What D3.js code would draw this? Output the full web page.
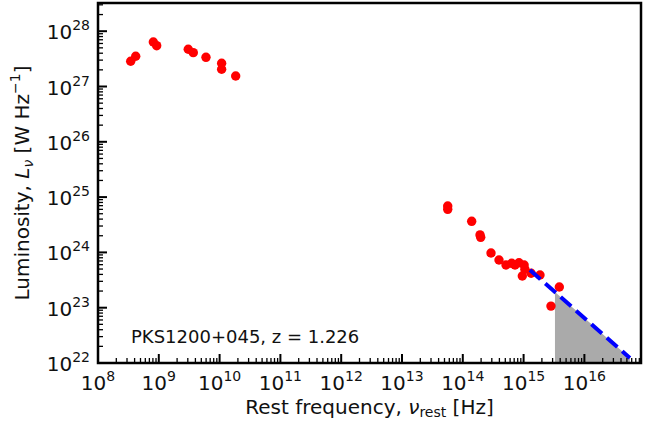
<!DOCTYPE html>
<html><head><meta charset="utf-8">
<script src="https://cdn.jsdelivr.net/npm/d3@7"></script>
<style>
html,body{margin:0;padding:0;background:#fff;}
svg{display:block;font-family:"DejaVu Sans",sans-serif;}
</style></head>
<body><svg id="c" width="655" height="421"></svg>
<script>
// Data
const radioNu = [3.45e8, 4.17e8, 8.13e8, 9.23e8, 3.05e9, 3.69e9, 5.97e9, 1.08e10, 1.08e10, 1.84e10];
const radioL  = [2.86e27, 3.52e27, 6.38e27, 5.47e27, 4.71e27, 4.09e27, 3.37e27, 2.63e27, 2.05e27, 1.55e27];
const optNu = [5.65e13, 5.65e13, 1.40e14, 1.92e14, 1.97e14, 2.91e14, 3.94e14, 5.14e14, 6.37e14, 7.22e14, 8.40e14, 1.02e15, 1.05e15, 9.52e14, 1.33e15, 1.86e15, 3.87e15, 2.82e15];
const optL  = [6.9e24, 6.0e24, 3.65e24, 2.07e24, 1.87e24, 9.75e23, 7.29e23, 5.92e23, 6.35e23, 5.92e23, 6.51e23, 5.92e23, 4.95e23, 3.74e23, 4.19e23, 3.90e23, 2.37e23, 1.07e23];
const lineNu = [1.27e15, 5.6e16];
const lineL  = [4.8e23, 1.23e22];
const shadeNu = [3.28e15, 5.6e16];
const shadeL  = [1.92e23, 1.23e22];
const xTickExp = [8, 9, 10, 11, 12, 13, 14, 15, 16];
const yTickExp = [22, 23, 24, 25, 26, 27, 28];
const label = "PKS1200+045, z = 1.226";

const L = 98, R = 641, T = 3, B = 363;
const svg = d3.select("#c");
const x = d3.scaleLog().domain([1e8, Math.pow(10, 16.931)]).range([L, R]);
const y = d3.scaleLog().domain([1e22, Math.pow(10, 28.51)]).range([B, T]);

// shaded region
const slope = Math.log10(shadeL[1] / shadeL[0]) / Math.log10(shadeNu[1] / shadeNu[0]);
const shadePts = d3.range(0, 21).map(i => {
  const lv = Math.log10(shadeNu[0]) + i / 20 * (Math.log10(shadeNu[1]) - Math.log10(shadeNu[0]));
  return [Math.pow(10, lv), shadeL[0] * Math.pow(Math.pow(10, lv) / shadeNu[0], slope)];
});
const area = d3.area().x(d => x(d[0])).y0(y(1e22)).y1(d => y(d[1]));
svg.append("path").attr("d", area(shadePts)).attr("fill", "#aaaaaa");

// points
const pts = radioNu.map((v, i) => [v, radioL[i]]).concat(optNu.map((v, i) => [v, optL[i]]));
svg.append("g").selectAll("circle").data(pts).enter().append("circle")
  .attr("cx", d => x(d[0])).attr("cy", d => y(d[1])).attr("r", 4.7).attr("fill", "#ff0000");

// dashed power law
svg.append("line")
  .attr("x1", x(lineNu[0])).attr("y1", y(lineL[0]))
  .attr("x2", x(lineNu[1])).attr("y2", y(lineL[1]))
  .attr("stroke", "#0000ff").attr("stroke-width", 4)
  .attr("stroke-dasharray", "14,6.5");

// ticks (inward)
const tg = svg.append("g").attr("stroke", "#000");
xTickExp.forEach(e => {
  const xv = x(Math.pow(10, e));
  tg.append("line").attr("x1", xv).attr("x2", xv).attr("y1", B).attr("y2", B - 9).attr("stroke-width", 2);
  for (let m = 2; m <= 9; m++) {
    const v = m * Math.pow(10, e);
    if (v < x.domain()[1]) {
      const xm = x(v);
      tg.append("line").attr("x1", xm).attr("x2", xm).attr("y1", B).attr("y2", B - 5).attr("stroke-width", 1.3);
    }
  }
});
yTickExp.forEach(e => {
  const yv = y(Math.pow(10, e));
  tg.append("line").attr("y1", yv).attr("y2", yv).attr("x1", L).attr("x2", L + 9).attr("stroke-width", 2);
  for (let m = 2; m <= 9; m++) {
    const v = m * Math.pow(10, e);
    if (v < y.domain()[1]) {
      const ym = y(v);
      tg.append("line").attr("y1", ym).attr("y2", ym).attr("x1", L).attr("x2", L + 5).attr("stroke-width", 1.3);
    }
  }
});

// frame
svg.append("rect").attr("x", L).attr("y", T).attr("width", R - L).attr("height", B - T)
  .attr("fill", "none").attr("stroke", "#000").attr("stroke-width", 2.5);

// tick labels
const FS = 20, SS = 14;
xTickExp.forEach(e => {
  const t = svg.append("text").attr("x", x(Math.pow(10, e))).attr("y", 390)
    .attr("text-anchor", "middle").attr("font-size", FS).attr("fill", "#111");
  t.append("tspan").text("10");
  t.append("tspan").attr("dy", -9).attr("font-size", SS).text(e);
});
yTickExp.forEach(e => {
  const t = svg.append("text").attr("x", 90).attr("y", y(Math.pow(10, e)) + 8)
    .attr("text-anchor", "end").attr("font-size", FS).attr("fill", "#111");
  t.append("tspan").text("10");
  t.append("tspan").attr("dy", -9).attr("font-size", SS).text(e);
});

// annotation
svg.append("text").attr("x", 131).attr("y", 343).attr("font-size", 18).attr("fill", "#111").text(label);

// axis labels
const xl = svg.append("text").attr("x", (L + R) / 2).attr("y", 414).attr("text-anchor", "middle")
  .attr("font-size", FS).attr("fill", "#111");
xl.append("tspan").text("Rest frequency, ");
xl.append("tspan").attr("font-style", "italic").text("\u03bd");
xl.append("tspan").attr("dy", 3).attr("font-size", SS).text("rest");
xl.append("tspan").attr("dy", -3).text(" [Hz]");

const yl = svg.append("text").attr("transform", `translate(29,${(T + B) / 2}) rotate(-90)`)
  .attr("text-anchor", "middle").attr("font-size", FS).attr("fill", "#111");
yl.append("tspan").text("Luminosity, ");
yl.append("tspan").attr("font-style", "italic").text("L");
yl.append("tspan").attr("dy", 4).attr("font-size", SS).attr("font-style", "italic").text("\u03bd");
yl.append("tspan").attr("dy", -4).text(" [W Hz");
yl.append("tspan").attr("dy", -9).attr("font-size", SS).text("\u22121");
yl.append("tspan").attr("dy", 9).text("]");
</script></body></html>
